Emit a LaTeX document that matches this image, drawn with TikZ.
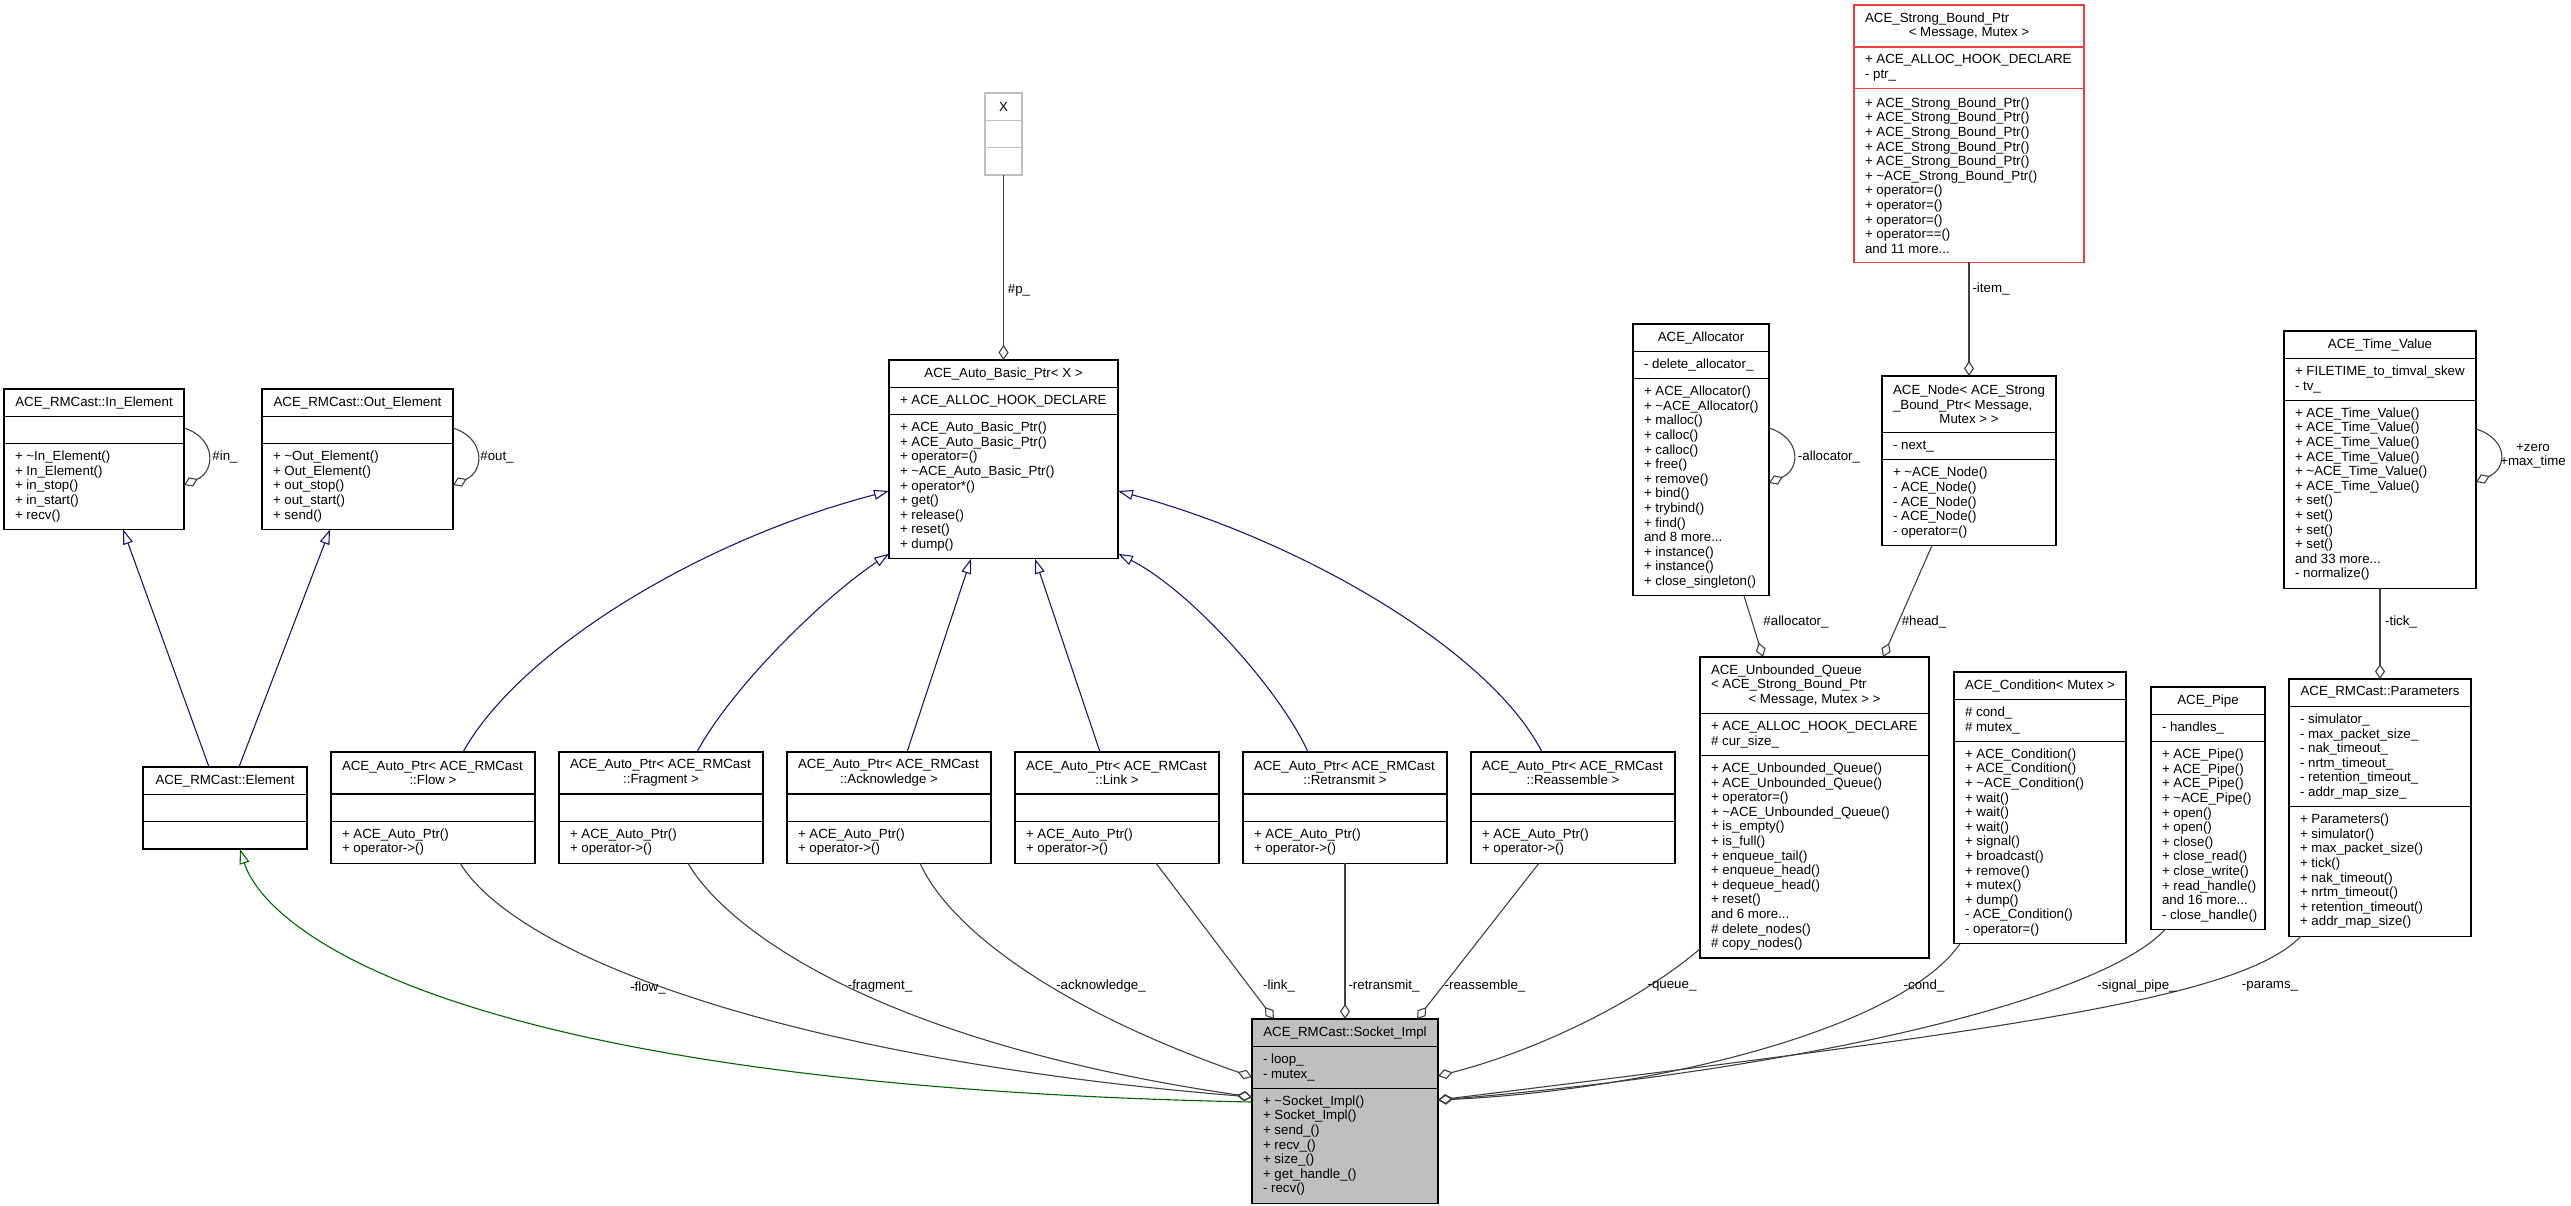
\documentclass[tikz,border=0pt]{standalone}
\usepackage{fontspec}
\setmainfont{Liberation Sans}
\usetikzlibrary{shapes.multipart,arrows.meta,calc,positioning}

\definecolor{inhblue}{HTML}{191970}
\definecolor{usegreen}{HTML}{006400}
\definecolor{membgray}{HTML}{404040}
\definecolor{truncred}{HTML}{F03C3C}
\definecolor{undocgray}{HTML}{BFBFBF}

% sections of a class box: width, number of lines, text
\newcommand{\clstitle}[3]{\parbox[c][\dimexpr14.6pt*#2+11.5pt\relax][c]{#1pt}{\raggedright\leftskip=11pt\rightskip=11pt plus 1fil\relax #3}}
\newcommand{\clssec}[3]{\parbox[c][\dimexpr14.6pt*#2+11.5pt\relax][c]{#1pt}{\raggedright\leftskip=11pt\rightskip=-30pt plus 1fil\relax #3}}
\newcommand{\ctr}[1]{\hspace*{\fill}#1\hspace*{\fill}}

\begin{document}
\begin{tikzpicture}[x=1pt,y=-1pt,
  every node/.style={font=\fontsize{13.3}{14.6}\selectfont},
  cls/.style={draw,line width=1.2pt,rectangle split,rectangle split parts=3,inner sep=0pt,outer sep=0pt,anchor=north west},
  lbl/.style={inner sep=0pt,align=center},
  inh/.style={draw=inhblue,line width=1.1pt,-{Triangle[open,length=15pt,width=10pt]}},
  real/.style={draw=usegreen,line width=1.1pt,-{Triangle[open,length=15pt,width=10pt]}},
  aggr/.style={draw=membgray,line width=1.1pt,{Diamond[open,length=15pt,width=10pt]}-}]
\useasboundingbox (0,0) rectangle (2571,1205);
\fill[white] (0,0) rectangle (2571,1205);

% classes
\node[cls,draw=undocgray] (X) at (985,93) {\clstitle{37}{1}{\ctr{X}}\nodepart{two}\clssec{37}{1}{}\nodepart{three}\clssec{37}{1}{}};
\node[cls] (basic) at (889,360) {\clstitle{229}{1}{\ctr{ACE\_Auto\_Basic\_Ptr< X >}}\nodepart{two}\clssec{229}{1}{+ ACE\_ALLOC\_HOOK\_DECLARE}\nodepart{three}\clssec{229}{9}{+ ACE\_Auto\_Basic\_Ptr()\\+ ACE\_Auto\_Basic\_Ptr()\\+ operator=()\\+ \textasciitilde ACE\_Auto\_Basic\_Ptr()\\+ operator*()\\+ get()\\+ release()\\+ reset()\\+ dump()}};
\node[cls] (inel) at (4,389) {\clstitle{180}{1}{\ctr{ACE\_RMCast::In\_Element}}\nodepart{two}\clssec{180}{1}{}\nodepart{three}\clssec{180}{5}{+ \textasciitilde In\_Element()\\+ In\_Element()\\+ in\_stop()\\+ in\_start()\\+ recv()}};
\node[cls] (outel) at (262,389) {\clstitle{191}{1}{\ctr{ACE\_RMCast::Out\_Element}}\nodepart{two}\clssec{191}{1}{}\nodepart{three}\clssec{191}{5}{+ \textasciitilde Out\_Element()\\+ Out\_Element()\\+ out\_stop()\\+ out\_start()\\+ send()}};
\node[cls] (elem) at (143,767) {\clstitle{164}{1}{\ctr{ACE\_RMCast::Element}}\nodepart{two}\clssec{164}{1}{}\nodepart{three}\clssec{164}{1}{}};
\node[cls] (flow) at (331,752) {\clstitle{204}{2}{ACE\_Auto\_Ptr< ACE\_RMCast\\\ctr{::Flow >}}\nodepart{two}\clssec{204}{1}{}\nodepart{three}\clssec{204}{2}{+ ACE\_Auto\_Ptr()\\+ operator->()}};
\node[cls] (frag) at (559,752) {\clstitle{204}{2}{ACE\_Auto\_Ptr< ACE\_RMCast\\\ctr{::Fragment >}}\nodepart{two}\clssec{204}{1}{}\nodepart{three}\clssec{204}{2}{+ ACE\_Auto\_Ptr()\\+ operator->()}};
\node[cls] (ack) at (787,752) {\clstitle{204}{2}{ACE\_Auto\_Ptr< ACE\_RMCast\\\ctr{::Acknowledge >}}\nodepart{two}\clssec{204}{1}{}\nodepart{three}\clssec{204}{2}{+ ACE\_Auto\_Ptr()\\+ operator->()}};
\node[cls] (link) at (1015,752) {\clstitle{204}{2}{ACE\_Auto\_Ptr< ACE\_RMCast\\\ctr{::Link >}}\nodepart{two}\clssec{204}{1}{}\nodepart{three}\clssec{204}{2}{+ ACE\_Auto\_Ptr()\\+ operator->()}};
\node[cls] (retr) at (1243,752) {\clstitle{204}{2}{ACE\_Auto\_Ptr< ACE\_RMCast\\\ctr{::Retransmit >}}\nodepart{two}\clssec{204}{1}{}\nodepart{three}\clssec{204}{2}{+ ACE\_Auto\_Ptr()\\+ operator->()}};
\node[cls] (reas) at (1471,752) {\clstitle{204}{2}{ACE\_Auto\_Ptr< ACE\_RMCast\\\ctr{::Reassemble >}}\nodepart{two}\clssec{204}{1}{}\nodepart{three}\clssec{204}{2}{+ ACE\_Auto\_Ptr()\\+ operator->()}};
\node[cls,draw=truncred] (sbp) at (1854,5) {\clstitle{230}{2}{ACE\_Strong\_Bound\_Ptr\\\ctr{< Message, Mutex >}}\nodepart{two}\clssec{230}{2}{+ ACE\_ALLOC\_HOOK\_DECLARE\\- ptr\_}\nodepart{three}\clssec{230}{11}{+ ACE\_Strong\_Bound\_Ptr()\\+ ACE\_Strong\_Bound\_Ptr()\\+ ACE\_Strong\_Bound\_Ptr()\\+ ACE\_Strong\_Bound\_Ptr()\\+ ACE\_Strong\_Bound\_Ptr()\\+ \textasciitilde ACE\_Strong\_Bound\_Ptr()\\+ operator=()\\+ operator=()\\+ operator=()\\+ operator==()\\and 11 more...}};
\node[cls] (alloc) at (1633,324) {\clstitle{136}{1}{\ctr{ACE\_Allocator}}\nodepart{two}\clssec{136}{1}{- delete\_allocator\_}\nodepart{three}\clssec{136}{14}{+ ACE\_Allocator()\\+ \textasciitilde ACE\_Allocator()\\+ malloc()\\+ calloc()\\+ calloc()\\+ free()\\+ remove()\\+ bind()\\+ trybind()\\+ find()\\and 8 more...\\+ instance()\\+ instance()\\+ close\_singleton()}};
\node[cls] (anode) at (1882,376) {\clstitle{174}{3}{ACE\_Node< ACE\_Strong\\\_Bound\_Ptr< Message,\\\ctr{Mutex > >}}\nodepart{two}\clssec{174}{1}{- next\_}\nodepart{three}\clssec{174}{5}{+ \textasciitilde ACE\_Node()\\- ACE\_Node()\\- ACE\_Node()\\- ACE\_Node()\\- operator=()}};
\node[cls] (queue) at (1700,657) {\clstitle{229}{3}{ACE\_Unbounded\_Queue\\< ACE\_Strong\_Bound\_Ptr\\\ctr{< Message, Mutex > >}}\nodepart{two}\clssec{229}{2}{+ ACE\_ALLOC\_HOOK\_DECLARE\\\# cur\_size\_}\nodepart{three}\clssec{229}{13}{+ ACE\_Unbounded\_Queue()\\+ ACE\_Unbounded\_Queue()\\+ operator=()\\+ \textasciitilde ACE\_Unbounded\_Queue()\\+ is\_empty()\\+ is\_full()\\+ enqueue\_tail()\\+ enqueue\_head()\\+ dequeue\_head()\\+ reset()\\and 6 more...\\\# delete\_nodes()\\\# copy\_nodes()}};
\node[cls] (cond) at (1954,672) {\clstitle{172}{1}{\ctr{ACE\_Condition< Mutex >}}\nodepart{two}\clssec{172}{2}{\# cond\_\\\# mutex\_}\nodepart{three}\clssec{172}{13}{+ ACE\_Condition()\\+ ACE\_Condition()\\+ \textasciitilde ACE\_Condition()\\+ wait()\\+ wait()\\+ wait()\\+ signal()\\+ broadcast()\\+ remove()\\+ mutex()\\+ dump()\\- ACE\_Condition()\\- operator=()}};
\node[cls] (pipe) at (2151,687) {\clstitle{114}{1}{\ctr{ACE\_Pipe}}\nodepart{two}\clssec{114}{1}{- handles\_}\nodepart{three}\clssec{114}{12}{+ ACE\_Pipe()\\+ ACE\_Pipe()\\+ ACE\_Pipe()\\+ \textasciitilde ACE\_Pipe()\\+ open()\\+ open()\\+ close()\\+ close\_read()\\+ close\_write()\\+ read\_handle()\\and 16 more...\\- close\_handle()}};
\node[cls] (tval) at (2284,331) {\clstitle{192}{1}{\ctr{ACE\_Time\_Value}}\nodepart{two}\clssec{192}{2}{+ FILETIME\_to\_timval\_skew\\- tv\_}\nodepart{three}\clssec{192}{12}{+ ACE\_Time\_Value()\\+ ACE\_Time\_Value()\\+ ACE\_Time\_Value()\\+ ACE\_Time\_Value()\\+ \textasciitilde ACE\_Time\_Value()\\+ ACE\_Time\_Value()\\+ set()\\+ set()\\+ set()\\+ set()\\and 33 more...\\- normalize()}};
\node[cls] (params) at (2289,679) {\clstitle{182}{1}{\ctr{ACE\_RMCast::Parameters}}\nodepart{two}\clssec{182}{6}{- simulator\_\\- max\_packet\_size\_\\- nak\_timeout\_\\- nrtm\_timeout\_\\- retention\_timeout\_\\- addr\_map\_size\_}\nodepart{three}\clssec{182}{8}{+ Parameters()\\+ simulator()\\+ max\_packet\_size()\\+ tick()\\+ nak\_timeout()\\+ nrtm\_timeout()\\+ retention\_timeout()\\+ addr\_map\_size()}};
\node[cls,fill=undocgray] (sock) at (1252,1019) {\clstitle{186}{1}{\ctr{ACE\_RMCast::Socket\_Impl}}\nodepart{two}\clssec{186}{2}{- loop\_\\- mutex\_}\nodepart{three}\clssec{186}{7}{+ \textasciitilde Socket\_Impl()\\+ Socket\_Impl()\\+ send\_()\\+ recv\_()\\+ size\_()\\+ get\_handle\_()\\- recv()}};

% inheritance
\draw[inh] ($(elem.north west)+(66,0)$) -- ($(inel.south west)+(119,0)$);
\draw[inh] ($(elem.north west)+(96,0)$) -- ($(outel.south west)+(68,0)$);
\draw[inh] ($(flow.north west)+(132,0)$) .. controls (520,650) and (700,540) .. ($(basic.north west)+(0,131)$);
\draw[inh] ($(frag.north west)+(138,0)$) .. controls (730,690) and (820,600) .. ($(basic.south west)+(0,-5)$);
\draw[inh] ($(ack.north west)+(120,0)$) -- ($(basic.south west)+(82,0)$);
\draw[inh] ($(link.north west)+(85,0)$) -- ($(basic.south west)+(146,0)$);
\draw[inh] ($(retr.north west)+(65,0)$) .. controls (1280,690) and (1190,590) .. ($(basic.south east)+(0,-5)$);
\draw[inh] ($(reas.north west)+(71,0)$) .. controls (1490,650) and (1300,540) .. ($(basic.north east)+(0,131)$);
\draw[real] ($(sock.north west)+(0,83)$) .. controls (420,1085) and (262,920) .. ($(elem.south west)+(97,0)$);

% members
\draw[aggr] (basic.north) -- (X.south);
\draw[aggr] (anode.north) -- (sbp.south);
\draw[aggr] (params.north) -- (tval.south);
\draw[aggr] ($(queue.north west)+(63,0)$) -- ($(alloc.south west)+(111,0)$);
\draw[aggr] ($(queue.north west)+(183,0)$) -- ($(anode.south west)+(50,0)$);
\draw[aggr] ($(inel.north east)+(0,96)$) .. controls +(32,-14) and +(32,10) .. ($(inel.north east)+(0,39)$);
\draw[aggr] ($(outel.north east)+(0,96)$) .. controls +(32,-14) and +(32,10) .. ($(outel.north east)+(0,39)$);
\draw[aggr] ($(alloc.north east)+(0,159)$) .. controls +(32,-14) and +(32,10) .. ($(alloc.north east)+(0,104)$);
\draw[aggr] ($(tval.north east)+(0,151)$) .. controls +(32,-14) and +(32,10) .. ($(tval.north east)+(0,98)$);
\draw[aggr] ($(sock.north west)+(0,78)$) .. controls (800,1060) and (520,960) .. ($(flow.south west)+(129,0)$);
\draw[aggr] ($(sock.north west)+(0,78)$) .. controls (860,1040) and (720,920) .. ($(frag.south west)+(129,0)$);
\draw[aggr] ($(sock.north west)+(0,58)$) .. controls (1060,1010) and (950,930) .. ($(ack.south west)+(133,0)$);
\draw[aggr] ($(sock.north west)+(22,0)$) -- ($(link.south west)+(141,0)$);
\draw[aggr] ($(sock.north west)+(93,0)$) -- ($(retr.south west)+(102,0)$);
\draw[aggr] ($(sock.north west)+(165,0)$) -- ($(reas.south west)+(68,0)$);
\draw[aggr] ($(sock.north east)+(0,57)$) .. controls (1540,1050) and (1640,1000) .. ($(queue.south west)+(0,-9)$);
\draw[aggr] ($(sock.north east)+(0,81)$) .. controls (1650,1090) and (1900,1030) .. ($(cond.south west)+(6,0)$);
\draw[aggr] ($(sock.north east)+(0,81)$) .. controls (1800,1070) and (2100,1000) .. ($(pipe.south west)+(14,0)$);
\draw[aggr] ($(sock.north east)+(0,81)$) .. controls (2000,1030) and (2240,1000) .. ($(params.south west)+(12,0)$);

% labels
\node[lbl] (lp) at (1019,290) {\#p\_};
\node[lbl] (litem) at (1991,289) {-item\_};
\node[lbl] (lqalloc) at (1796,622) {\#allocator\_};
\node[lbl] (lhead) at (1924,622) {\#head\_};
\node[lbl] (lalloc) at (1829,457) {-allocator\_};
\node[lbl] (ltick) at (2401,622) {-tick\_};
\node[lbl] (lin) at (225,457) {\#in\_};
\node[lbl] (lout) at (497,457) {\#out\_};
\node[lbl] (lzero) at (2533,456) {+zero\\+max\_time};
\node[lbl] (lflow) at (648,988) {-flow\_};
\node[lbl] (lfrag) at (880,986) {-fragment\_};
\node[lbl] (lack) at (1101,986) {-acknowledge\_};
\node[lbl] (llink) at (1279,986) {-link\_};
\node[lbl] (lretr) at (1384,986) {-retransmit\_};
\node[lbl] (lreas) at (1485,986) {-reassemble\_};
\node[lbl] (lqueue) at (1672,986) {-queue\_};
\node[lbl] (lcond) at (1924,986) {-cond\_};
\node[lbl] (lpipe) at (2137,986) {-signal\_pipe\_};
\node[lbl] (lparams) at (2270,986) {-params\_};
\end{tikzpicture}
\end{document}
